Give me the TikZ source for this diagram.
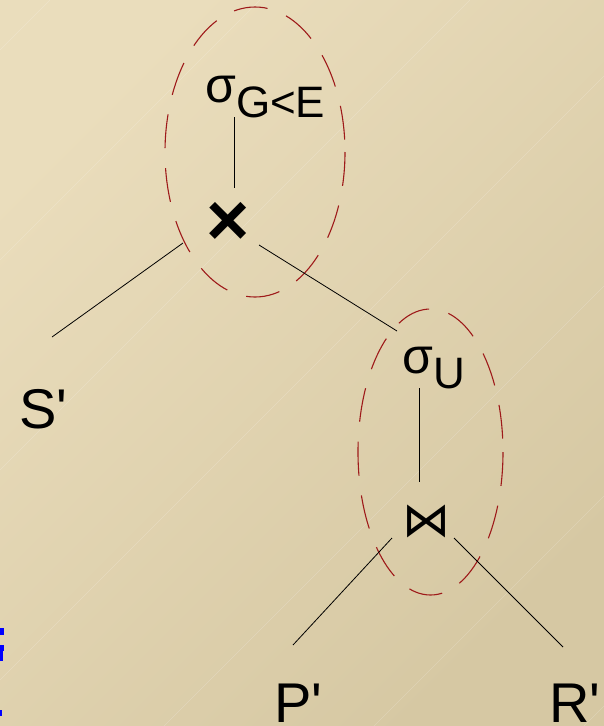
\documentclass[tikz,border=0pt]{standalone}
\usepackage{fontspec}
\setmainfont{Liberation Sans}
\newfontfamily\plainsans{Liberation Sans}
\newfontfamily\dejavu{DejaVu Sans}
\usetikzlibrary{calc}
\definecolor{bgA}{HTML}{EADDBC}
\definecolor{bgB}{HTML}{D6C8A3}
\definecolor{ovred}{HTML}{9E1A1A}
\begin{document}
\begin{tikzpicture}[x=1pt,y=-1pt,
  edge/.style={black,line width=0.8pt},
  oval/.style={ovred,line width=1.1pt,dash pattern=on 34pt off 20pt},
  leaf/.style={inner sep=0pt,anchor=base west,font=\plainsans\fontsize{56}{60}\selectfont},
  sel/.style={inner sep=0pt,anchor=base west},
  sheen/.style={white,opacity=0.2,line width=0.6pt}]
\useasboundingbox (0,0) rectangle (604,726);
\shade[shading=axis,top color=bgA,bottom color=bgB,shading angle=45] (0,0) rectangle (604,726);
\begin{scope}
\clip (0,0) rectangle (604,726);
\foreach \c in {50,260,470,680,890,1100,1310}
  \draw[sheen] (\c,0) -- (0,\c);
\fill[blue] (0,628) rectangle (4,635);
\fill[blue] (0,645) rectangle (4,651);
\fill[blue] (0,651) rectangle (3,661);
\fill[blue] (0,710) rectangle (2,716);
\end{scope}
% nodes
\node[sel] (sg1) at (205,102) {{\fontsize{50}{50}\selectfont σ}\raisebox{-15pt}{\fontsize{44}{44}\selectfont G<E}};
\node[inner sep=0pt] (cr) at (228.5,224) {\fontsize{74}{74}\selectfont\bfseries ×};
\node[sel] (sg2) at (402,373) {{\fontsize{50}{50}\selectfont σ}\raisebox{-15pt}{\fontsize{44}{44}\selectfont U}};
\node[inner sep=0pt] (bt) at (426,521) {\dejavu\fontsize{48}{48}\selectfont ⋈};
\node[leaf] (S) at (19,428) {S'};
\node[leaf] (P) at (274,722) {P'};
\node[leaf] (R) at (549,722) {R'};
% ovals
\draw[oval] (255,152) ellipse [x radius=90,y radius=145];
\draw[oval] (430.5,452) ellipse [x radius=72.5,y radius=143];
% connectors
\draw[edge] ($(cr)+(5.5,-107)$) -- ($(cr)+(5.5,-36)$);
\draw[edge] ($(cr)+(-45.5,19)$) -- ($(S.base west)+(33,-91)$);
\draw[edge] ($(cr)+(30.5,21)$) -- ($(sg2.base west)+(-5,-42)$);
\draw[edge] ($(sg2.base west)+(17,15)$) -- ($(bt)+(-7,-39)$);
\draw[edge] ($(bt)+(-34,17)$) -- ($(P.base west)+(19,-77)$);
\draw[edge] ($(bt)+(28,17)$) -- ($(R.base west)+(14,-75)$);
\end{tikzpicture}
\end{document}
